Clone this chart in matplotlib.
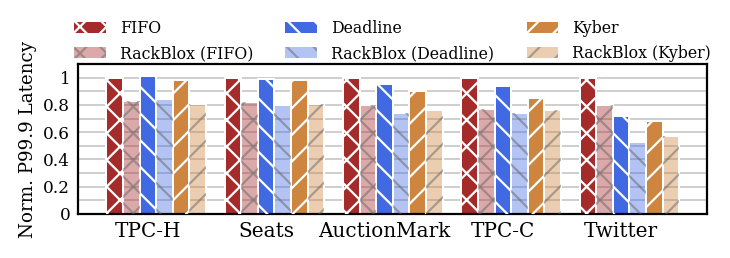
import numpy as np
import matplotlib
matplotlib.use("Agg")
import matplotlib.pyplot as plt
from matplotlib.colors import to_rgba

plt.rcParams['font.family'] = 'DejaVu Serif'
plt.rcParams['hatch.linewidth'] = 1.0

workloads = ['TPC-H', 'Seats', 'AuctionMark', 'TPC-C', 'Twitter']
labels = ['FIFO', 'RackBlox (FIFO)', 'Deadline', 'RackBlox (Deadline)',
          'Kyber', 'RackBlox (Kyber)']

fifo = [1.0, 1.0, 1.0, 1.0, 1.0]
rb_fifo = [0.83, 0.82, 0.80, 0.77, 0.80]
deadline = [1.01, 0.99, 0.95, 0.94, 0.72]
rb_deadline = [0.84, 0.80, 0.74, 0.74, 0.53]
kyber = [0.98, 0.98, 0.90, 0.85, 0.68]
rb_kyber = [0.81, 0.81, 0.76, 0.76, 0.57]

series = [fifo, rb_fifo, deadline, rb_deadline, kyber, rb_kyber]
base_colors = ['#a52a2a', '#a52a2a', '#4169e1', '#4169e1', '#cd853f', '#cd853f']
hatches = ['xx', 'xx', '\\\\', '\\\\', '//', '//']
rackblox = [False, True, False, True, False, True]

fig = plt.figure(figsize=(730 / 160, 258 / 160), dpi=160)
ax = fig.add_axes([78 / 730, 44 / 258, 629 / 730, 150 / 258])

x = np.arange(len(workloads))
w = 0.14
handles = []
for i, vals in enumerate(series):
    pos = x + (i - 2) * w
    if rackblox[i]:
        face = to_rgba(base_colors[i], 0.4)
        hcol = (0.4, 0.4, 0.4, 0.5)
    else:
        face = to_rgba(base_colors[i], 1.0)
        hcol = 'white'
    ax.bar(pos, vals, w, color=face, edgecolor='white', linewidth=0.9, zorder=2)
    ax.bar(pos, vals, w, fill=False, hatch=hatches[i], edgecolor=hcol,
           linewidth=0, zorder=3)
    handles.append(plt.Rectangle((0, 0), 1, 1, facecolor=face, edgecolor=hcol,
                                 hatch=hatches[i], linewidth=0))

ax.set_xlim(-0.59, 4.725)
ax.set_ylim(0, 1.1)
ax.set_xticks(x)
ax.set_xticklabels(workloads, fontsize=9)
ax.set_yticks([0, 0.2, 0.4, 0.6, 0.8, 1.0])
ax.set_yticklabels(['0', '0.2', '0.4', '0.6', '0.8', '1'], fontsize=7.6)
ax.set_yticks(np.arange(0.1, 1.1, 0.2), minor=True)
ax.tick_params(axis='both', which='both', length=0, pad=3.5)
ax.grid(axis='y', which='both', color='#cfcfcf', linewidth=0.9, zorder=0)
ax.set_axisbelow(True)
ax.set_ylabel('Norm. P99.9 Latency', fontsize=8.2, labelpad=3)
for s in ax.spines.values():
    s.set_linewidth(1.0)

ax.legend(handles, labels, ncol=3, loc='lower center', bbox_to_anchor=(0.5, 0.97),
          frameon=False, fontsize=7.1, borderaxespad=0.0, columnspacing=2.05,
          handlelength=2.0, handletextpad=0.9, labelspacing=0.5)

fig.savefig('out.png', dpi=160)
